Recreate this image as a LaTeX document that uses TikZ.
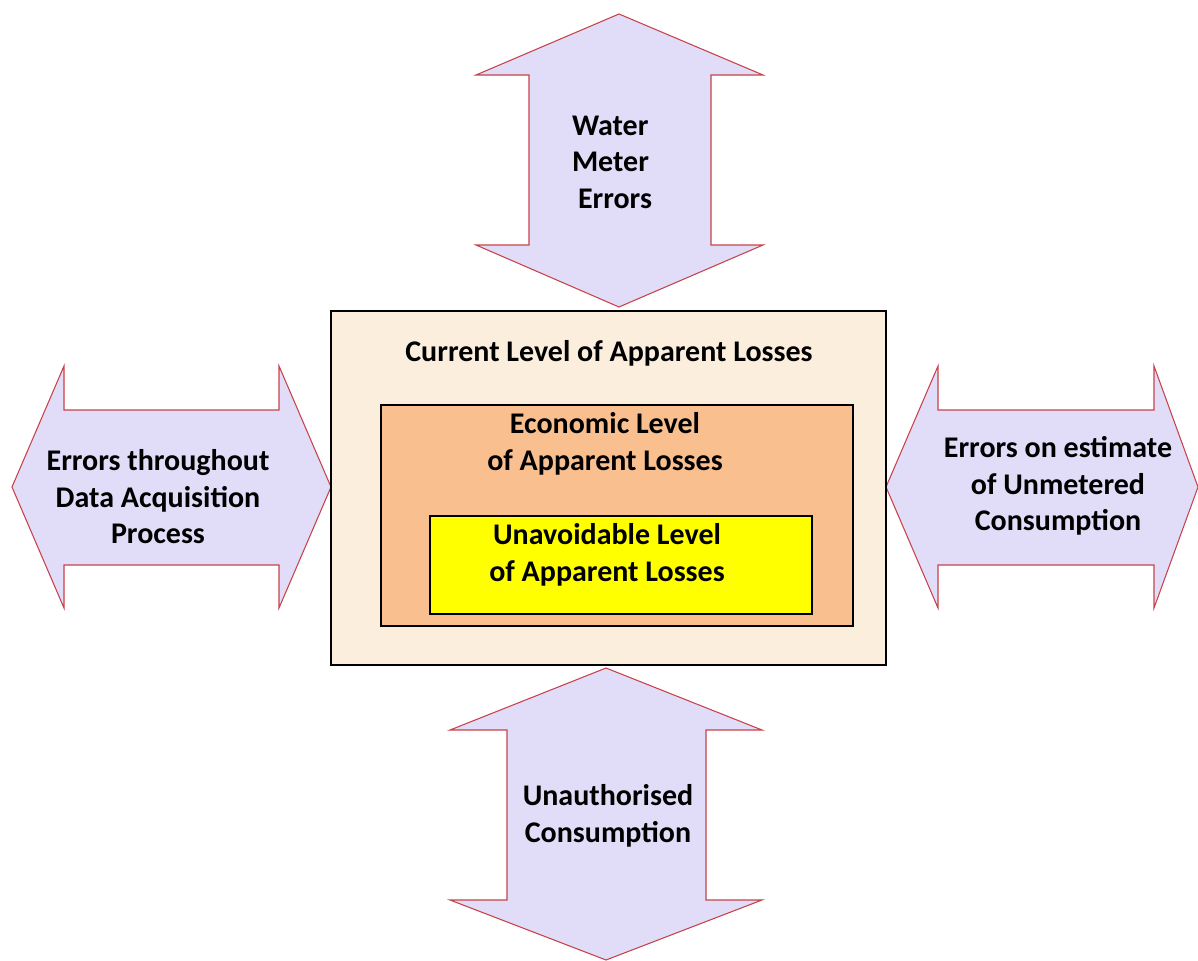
\documentclass[tikz,border=0pt]{standalone}
\usepackage{fontspec}
\setmainfont{Carlito}
\definecolor{arrowfill}{HTML}{E1DDF8}
\definecolor{arrowline}{HTML}{C8424A}
\definecolor{outerfill}{HTML}{FBEEDD}
\definecolor{midfill}{HTML}{F9BF8F}
\definecolor{innerfill}{HTML}{FFFF00}
\begin{document}
\begin{tikzpicture}[x=0.75pt,y=-0.75pt,
  bigarrow/.style={fill=arrowfill,draw=arrowline,line width=0.8pt,line join=miter},
  levelbox/.style={draw=black,line width=1.9pt},
  label/.style={font=\fontsize{22.5}{27.4}\selectfont\bfseries,align=center,inner sep=0pt}]
\useasboundingbox (0,0) rectangle (1198,960);

% double-headed arrows
\draw[bigarrow] (619,14) -- (763,75) -- (711,75) -- (711,245) -- (763,245) -- (619,307)
  -- (476,245) -- (529,245) -- (529,75) -- (476,75) -- cycle;
\draw[bigarrow] (606,668) -- (762,730) -- (706,730) -- (706,900) -- (762,900) -- (606,960)
  -- (450,900) -- (507,900) -- (507,730) -- (450,730) -- cycle;
\draw[bigarrow] (12,487) -- (64,366) -- (64,410) -- (279,410) -- (279,366) -- (331,487)
  -- (279,608) -- (279,565) -- (64,565) -- (64,608) -- cycle;
\draw[bigarrow] (886,487) -- (938,366) -- (938,410) -- (1154,410) -- (1154,366) -- (1198,487)
  -- (1154,608) -- (1154,565) -- (938,565) -- (938,608) -- cycle;

% nested levels
\draw[levelbox,fill=outerfill] (331,311) rectangle (886,665);
\draw[levelbox,fill=midfill] (381,405) rectangle (853,626);
\draw[levelbox,fill=innerfill] (430,516) rectangle (812,614);

% labels
\node[label,align=left] (meter) at (612,162) {Water\\Meter\\\hspace*{0.2em}Errors};
\node[label] (unauth) at (608,816) {Unauthorised\\Consumption};
\node[label] (acq) at (158,497) {Errors throughout\\Data Acquisition\\Process};
\node[label] (unmet) at (1058,486) {Errors on estimate\\of Unmetered\\Consumption};
\node[label] (current) at (609,353) {Current Level of Apparent Losses};
\node[label] (econ) at (605,444) {Economic Level\\of Apparent Losses};
\node[label] (unavoid) at (607,555) {Unavoidable Level\\of Apparent Losses};
\end{tikzpicture}
\end{document}
